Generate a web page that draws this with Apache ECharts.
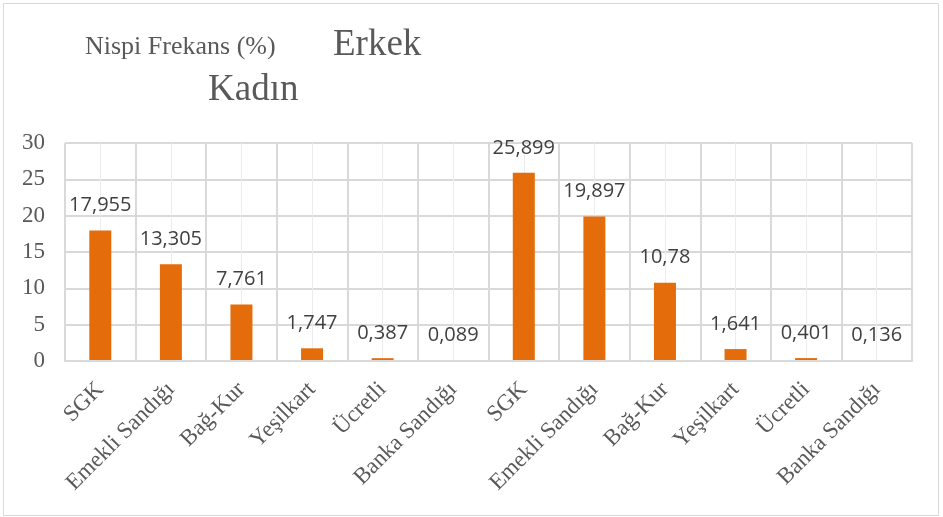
<!DOCTYPE html>
<html><head><meta charset="utf-8">
<script src="https://cdn.jsdelivr.net/npm/echarts@6/dist/echarts.min.js"></script>
<style>html,body{margin:0;padding:0;background:#fff}#c{width:943px;height:517px}</style>
</head><body><div id="c"></div>
<script>
const categories = ["SGK","Emekli Sandığı","Bağ-Kur","Yeşilkart","Ücretli","Banka Sandığı","SGK","Emekli Sandığı","Bağ-Kur","Yeşilkart","Ücretli","Banka Sandığı"];
const values = [17.955, 13.305, 7.761, 1.747, 0.387, 0.089, 25.899, 19.897, 10.78, 1.641, 0.401, 0.136];
const yTicks = [0, 5, 10, 15, 20, 25, 30];
const titleMain = "Nispi Frekans (%)";
const titleA = "Erkek";
const titleB = "Kadın";

const halfCats = [];
categories.forEach((c, i) => { halfCats.push('a' + i); halfCats.push('b' + i); });

const chart = echarts.init(document.getElementById('c'), null, {renderer: 'canvas'});
const serif = '"Liberation Serif", "DejaVu Serif", serif';
chart.setOption({
  animation: false,
  backgroundColor: '#fff',
  graphic: [
    {type: 'rect', shape: {x: 3.5, y: 3.5, width: 935, height: 512}, style: {fill: 'none', stroke: '#d9d9d9', lineWidth: 1}, z: -10},
    {type: 'text', x: 85, y: 47, style: {text: titleMain, fontSize: 26, fontFamily: serif, fill: '#595959', verticalAlign: 'middle'}},
    {type: 'text', x: 333, y: 45, style: {text: titleA, fontSize: 37, fontFamily: serif, fill: '#595959', verticalAlign: 'middle'}},
    {type: 'text', x: 208, y: 90, style: {text: titleB, fontSize: 37, fontFamily: serif, fill: '#595959', verticalAlign: 'middle'}}
  ],
  grid: {left: 65, right: 31, top: 143, bottom: 156},
  xAxis: [
    {
      type: 'category', data: categories, boundaryGap: true, z: 3,
      axisLine: {lineStyle: {color: '#d9d9d9', width: 2}},
      axisTick: {show: false},
      splitLine: {show: true, interval: 0, lineStyle: {color: '#d9d9d9', width: 2}},
      axisLabel: {interval: 0, rotate: 45, margin: 25, color: '#595959', fontFamily: serif, fontSize: 23}
    },
    {
      type: 'category', data: halfCats, boundaryGap: true, position: 'bottom', z: 1,
      axisLine: {show: false}, axisTick: {show: false}, axisLabel: {show: false},
      splitLine: {show: true, interval: 0, lineStyle: {color: '#ececec', width: 1}}
    }
  ],
  yAxis: {
    type: 'value', min: 0, max: 30, interval: 5,
    axisLine: {show: false}, axisTick: {show: false},
    splitLine: {lineStyle: {color: '#d9d9d9', width: 2}},
    axisLabel: {color: '#595959', fontFamily: serif, fontSize: 23, margin: 20}
  },
  series: [{
    type: 'bar', xAxisIndex: 0, data: values, barWidth: 22,
    itemStyle: {color: '#e46c0a'},
    label: {
      show: true, position: 'top', distance: 15,
      color: '#404040', fontFamily: '"Open Sans", "Noto Sans", sans-serif', fontSize: 20,
      formatter: p => String(p.value).replace('.', ',')
    }
  }]
});
</script></body></html>
